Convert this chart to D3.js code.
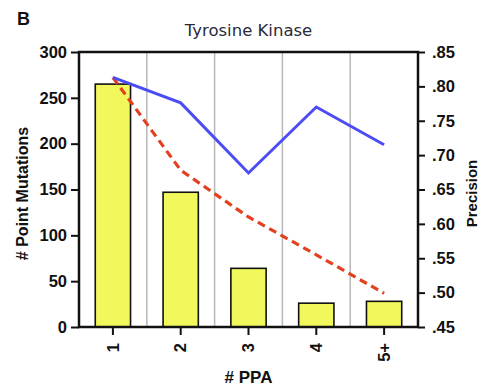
<!DOCTYPE html>
<html>
<head>
<meta charset="utf-8">
<script src="https://cdn.jsdelivr.net/npm/d3@7"></script>
<style>
  body { margin: 0; background: #fff; }
  svg { display: block; }
  .tick text { font-family: "Liberation Sans", Arial, sans-serif; font-weight: bold; font-size: 16.5px; fill: #111; }
</style>
</head>
<body>
<div id="chart"></div>
<script>
// Data
var categories = ["1", "2", "3", "4", "5+"];
var mutations = [265, 147, 64, 26, 28];
var precisionBlue = [0.813, 0.776, 0.674, 0.770, 0.715];
var precisionRed = [0.813, 0.678, 0.610, 0.555, 0.499];
var leftTicks = [0, 50, 100, 150, 200, 250, 300];
var rightTicks = [0.45, 0.50, 0.55, 0.60, 0.65, 0.70, 0.75, 0.80, 0.85];

var W = 481, H = 388;
var margin = { top: 52, right: 63, bottom: 61, left: 79 };
var width = W - margin.left - margin.right;
var height = H - margin.top - margin.bottom;

var svg = d3.select("#chart").append("svg")
  .attr("width", W)
  .attr("height", H);

var g = svg.append("g")
  .attr("transform", "translate(" + margin.left + "," + margin.top + ")");

// scales
var x = d3.scaleBand()
  .domain(categories)
  .range([0, width])
  .paddingInner(0.48)
  .paddingOuter(0.24);

var yLeft = d3.scaleLinear().domain([0, 300]).range([height, 0]);
var yRight = d3.scaleLinear().domain([0.45, 0.85]).range([height, 0]);

// vertical gridlines between categories
g.selectAll("line.grid")
  .data(categories.slice(1))
  .enter()
  .append("line")
  .attr("class", "grid")
  .attr("x1", function(d) { return x(d) - x.step() * x.paddingInner() / 2; })
  .attr("x2", function(d) { return x(d) - x.step() * x.paddingInner() / 2; })
  .attr("y1", 0)
  .attr("y2", height)
  .attr("stroke", "#b8b8b8")
  .attr("stroke-width", 1.5);

// bars
g.selectAll("rect.bar")
  .data(mutations)
  .enter()
  .append("rect")
  .attr("class", "bar")
  .attr("x", function(d, i) { return x(categories[i]); })
  .attr("y", function(d) { return yLeft(d); })
  .attr("width", x.bandwidth())
  .attr("height", function(d) { return height - yLeft(d); })
  .attr("fill", "#f1f85c")
  .attr("stroke", "#111")
  .attr("stroke-width", 1.6);

// precision lines
var line = d3.line()
  .x(function(d, i) { return x(categories[i]) + x.bandwidth() / 2; })
  .y(function(d) { return yRight(d); });

g.append("path")
  .datum(precisionRed)
  .attr("d", line)
  .attr("fill", "none")
  .attr("stroke", "#e2401f")
  .attr("stroke-width", 3.2)
  .attr("stroke-dasharray", "8,5");

g.append("path")
  .datum(precisionBlue)
  .attr("d", line)
  .attr("fill", "none")
  .attr("stroke", "#4c4cf5")
  .attr("stroke-width", 3)
  .attr("stroke-linejoin", "miter");

// frame
g.append("rect")
  .attr("width", width)
  .attr("height", height)
  .attr("fill", "none")
  .attr("stroke", "#111")
  .attr("stroke-width", 2.5);

// axes
var axL = g.append("g")
  .call(d3.axisLeft(yLeft).tickValues(leftTicks).tickSize(8).tickPadding(4));
var axR = g.append("g")
  .attr("transform", "translate(" + width + ",0)")
  .call(d3.axisRight(yRight).tickValues(rightTicks).tickSize(7).tickPadding(7)
    .tickFormat(function(d) { return d3.format(".2f")(d).replace(/^0/, ""); }));
var axB = g.append("g")
  .attr("transform", "translate(0," + height + ")")
  .call(d3.axisBottom(x).tickSize(8).tickPadding(4));

[axL, axR, axB].forEach(function(a) {
  a.select(".domain").remove();
  a.selectAll(".tick line").attr("stroke", "#111").attr("stroke-width", 2);
});

axB.selectAll(".tick text")
  .attr("transform", "rotate(-90)")
  .attr("text-anchor", "end")
  .attr("x", -16)
  .attr("y", 0)
  .attr("dy", "0.35em");

// labels
svg.append("text")
  .attr("x", 17)
  .attr("y", 25)
  .attr("font-family", "Liberation Sans, Arial, sans-serif")
  .attr("font-weight", "bold")
  .attr("font-size", 18)
  .attr("fill", "#111")
  .text("B");

svg.append("text")
  .attr("x", margin.left + width / 2)
  .attr("y", 36)
  .attr("text-anchor", "middle")
  .attr("font-family", "DejaVu Sans, sans-serif")
  .attr("font-size", 16.5)
  .attr("fill", "#2a2a3a")
  .text("Tyrosine Kinase");

svg.append("text")
  .attr("x", margin.left + width / 2)
  .attr("y", 383)
  .attr("text-anchor", "middle")
  .attr("font-family", "Liberation Sans, Arial, sans-serif")
  .attr("font-weight", "bold")
  .attr("font-size", 17)
  .attr("fill", "#111")
  .text("# PPA");

svg.append("text")
  .attr("transform", "translate(28," + (margin.top + height / 2 + 4) + ") rotate(-90)")
  .attr("text-anchor", "middle")
  .attr("font-family", "Liberation Sans, Arial, sans-serif")
  .attr("font-weight", "bold")
  .attr("font-size", 16)
  .attr("fill", "#111")
  .text("# Point Mutations");

svg.append("text")
  .attr("transform", "translate(477," + (margin.top + height / 2 + 4) + ") rotate(-90)")
  .attr("text-anchor", "middle")
  .attr("font-family", "Liberation Sans, Arial, sans-serif")
  .attr("font-weight", "bold")
  .attr("font-size", 15)
  .attr("fill", "#111")
  .text("Precision");
</script>
</body>
</html>
